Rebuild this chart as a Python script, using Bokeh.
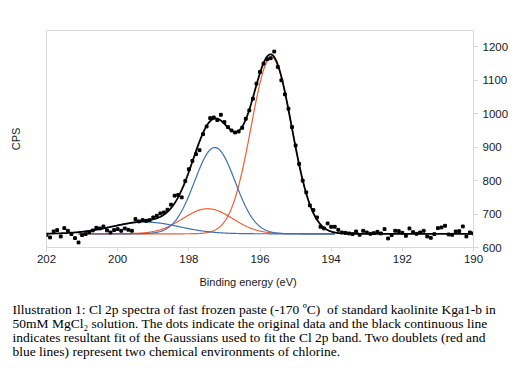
import numpy as np
from bokeh.plotting import figure
from bokeh.models import Range1d, Title, FixedTicker, LinearAxis
from bokeh.embed import file_html
from bokeh.resources import INLINE

# ---- data ----
energy = [
    202.0, 201.9, 201.8, 201.7, 201.6, 201.5, 201.4, 201.3, 201.2, 201.1,
    201.0, 200.9, 200.8, 200.7, 200.6, 200.5, 200.4, 200.3, 200.2, 200.1,
    200.0, 199.9, 199.8, 199.7, 199.6, 199.5, 199.4, 199.3, 199.2, 199.1,
    199.0, 198.9, 198.8, 198.7, 198.6, 198.5, 198.4, 198.3, 198.2, 198.1,
    198.0, 197.9, 197.8, 197.7, 197.6, 197.5, 197.4, 197.3, 197.2, 197.1,
    197.0, 196.9, 196.8, 196.7, 196.6, 196.5, 196.4, 196.3, 196.2, 196.1,
    196.0, 195.9, 195.8, 195.7, 195.6, 195.5, 195.4, 195.3, 195.2, 195.1,
    195.0, 194.9, 194.8, 194.7, 194.6, 194.5, 194.4, 194.3, 194.2, 194.1,
    194.0, 193.9, 193.8, 193.7, 193.6, 193.5, 193.4, 193.3, 193.2, 193.1,
    193.0, 192.9, 192.8, 192.7, 192.6, 192.5, 192.4, 192.3, 192.2, 192.1,
    192.0, 191.9, 191.8, 191.7, 191.6, 191.5, 191.4, 191.3, 191.2, 191.1,
    191.0, 190.9, 190.8, 190.7, 190.6, 190.5, 190.4, 190.3, 190.2, 190.1,
    190.0,
]
counts = [
    638, 630, 648, 652, 633, 658, 650, 640, 628, 615,
    637, 640, 646, 651, 659, 657, 663, 651, 645, 652,
    655, 650, 657, 653, 650, 685, 678, 682, 680, 682,
    690, 695, 702, 705, 713, 728, 755, 757, 750, 799,
    834, 859, 879, 891, 939, 962, 987, 989, 981, 997,
    975, 960, 950, 944, 947, 958, 985, 1010, 1045, 1090,
    1125, 1150, 1163, 1166, 1186, 1140, 1100, 1058, 1015, 960,
    905, 850, 800, 765, 726, 712, 690, 662, 657, 672,
    662, 662, 653, 645, 644, 642, 640, 648, 638, 650,
    645, 641, 643, 647, 642, 655, 627, 637, 650, 649,
    644, 635, 657, 646, 641, 645, 650, 633, 629, 640,
    658, 660, 665, 639, 638, 648, 649, 663, 633, 645,
    642,
]

# fitted Gaussian components
baseline_cps = 641
peak_center = [195.68, 197.47, 197.27, 199.22]
peak_height = [528, 75, 258, 35]
peak_sigma = [0.57, 0.70, 0.57, 0.95]
peak_color = ["#f25c33", "#f25c33", "#3b70b3", "#3b70b3"]
component_span = [201.1, 193.9]

x_ticks = [202, 200, 198, 196, 194, 192, 190]
y_ticks = [600, 700, 800, 900, 1000, 1100, 1200]

caption = ("Illustration 1: Cl 2p spectra of fast frozen paste (-170 \u00baC)\u00a0 of standard kaolinite Kga1-b in\n"
           "50mM MgCl\u2082 solution. The dots indicate the original data and the black continuous line\n"
           "indicates resultant fit of the Gaussians used to fit the Cl 2p band. Two doublets (red and\n"
           "blue lines) represent two chemical environments of chlorine.")


def gauss(x, c, h, s):
    return h * np.exp(-(x - c) ** 2 / (2.0 * s * s))


p = figure(frame_width=427, frame_height=217,
           x_range=Range1d(202, 190), y_range=Range1d(600, 1249),
           y_axis_location="right", output_backend="svg", toolbar_location=None,
           min_border_left=46, min_border_top=30, min_border_right=4, min_border_bottom=2)
p.xgrid.visible = False
p.ygrid.visible = False
p.outline_line_color = "#d9d9d9"
p.background_fill_color = "white"
p.border_fill_color = "white"

for ax in (p.xaxis[0], p.yaxis[0]):
    ax.axis_line_color = "#d9d9d9"
    ax.major_tick_line_color = "#d9d9d9"
    ax.minor_tick_line_color = None
    ax.major_tick_in = 0
    ax.major_label_text_font = "Liberation Sans"
    ax.major_label_text_font_size = "11.5px"
    ax.major_label_text_color = "#1a1a1a"
p.xaxis[0].ticker = FixedTicker(ticks=x_ticks)
p.yaxis[0].ticker = FixedTicker(ticks=y_ticks)
p.xaxis[0].major_tick_out = 4
p.xaxis[0].major_label_standoff = 3
p.yaxis[0].major_tick_out = 5
p.yaxis[0].major_label_standoff = 4

# left side: only the "CPS" title
cps_axis = LinearAxis(ticker=FixedTicker(ticks=[]), axis_label="CPS",
                      axis_line_color=None, major_tick_line_color=None,
                      minor_tick_line_color=None, major_tick_out=0, major_tick_in=0,
                      axis_label_standoff=25, axis_label_text_font="Liberation Sans",
                      axis_label_text_font_size="11px", axis_label_text_font_style="normal",
                      axis_label_text_color="#1a1a1a")
p.add_layout(cps_axis, "left")

# components
xc = np.linspace(component_span[0], component_span[1], 400)
for c, h, s, col in zip(peak_center, peak_height, peak_sigma, peak_color):
    p.line(xc, baseline_cps + gauss(xc, c, h, s), line_color=col, line_width=1.2)

# total fit
xf = np.linspace(202, 190, 600)
total = np.full_like(xf, float(baseline_cps))
for c, h, s in zip(peak_center, peak_height, peak_sigma):
    total = total + gauss(xf, c, h, s)
p.line(xf, total, line_color="black", line_width=1.8)

# data
p.scatter(energy, counts, marker="square", size=2.8, color="black")

p.add_layout(Title(text="Binding energy (eV)", align="left", offset=153, standoff=20,
                   vertical_align="top",
                   text_font="Liberation Sans", text_font_size="11px",
                   text_font_style="normal", text_color="#1a1a1a"), "below")
p.add_layout(Title(text=caption, align="left", offset=-34, standoff=4,
                   vertical_align="top",
                   text_font="Liberation Serif", text_font_size="13.5px",
                   text_font_style="normal", text_color="black",
                   text_line_height=0.95), "below")

open("out.html", "w").write(file_html(p, INLINE))
